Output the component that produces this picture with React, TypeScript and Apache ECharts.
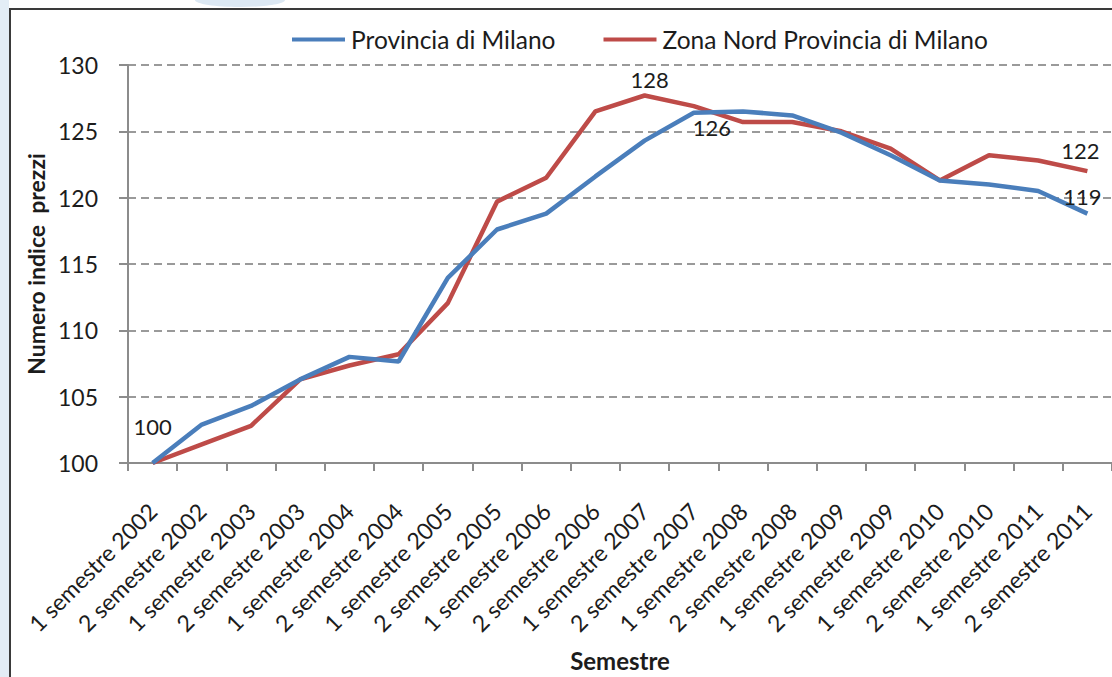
import React, { useEffect, useRef } from "react";
import * as echarts from "echarts";

const categories = [
  "1 semestre 2002", "2 semestre 2002", "1 semestre 2003", "2 semestre 2003",
  "1 semestre 2004", "2 semestre 2004", "1 semestre 2005", "2 semestre 2005",
  "1 semestre 2006", "2 semestre 2006", "1 semestre 2007", "2 semestre 2007",
  "1 semestre 2008", "2 semestre 2008", "1 semestre 2009", "2 semestre 2009",
  "1 semestre 2010", "2 semestre 2010", "1 semestre 2011", "2 semestre 2011",
];

const provinciaMilano = [
  100, 102.9, 104.3, 106.3, 108.0, 107.65, 113.95, 117.6, 118.8, 121.6,
  124.3, 126.4, 126.5, 126.2, 124.9, 123.2, 121.3, 121.0, 120.5, 118.8,
];

const zonaNord = [
  100, 101.4, 102.8, 106.3, 107.35, 108.2, 112.05, 119.7, 121.5, 126.5,
  127.7, 126.9, 125.7, 125.7, 125.0, 123.7, 121.3, 123.2, 122.8, 122.0,
];

const seriesNames = ["Provincia di Milano", "Zona Nord Provincia di Milano"];
const yTicks = { min: 100, max: 130, interval: 5 };

const FONT = "Lato, 'Noto Sans', sans-serif";
const TEXT = "#1c1c1c";

export default function App() {
  const ref = useRef<HTMLDivElement>(null);

  useEffect(() => {
    if (!ref.current) return;
    const chart = echarts.init(ref.current, null, { renderer: "svg" });

    const lbl = (extra: any) => ({
      show: true,
      position: "top",
      color: TEXT,
      fontSize: 22,
      fontFamily: FONT,
      formatter: (p: any) => String(Math.round(p.value)),
      ...extra,
    });

    const blueData = provinciaMilano.map((v, i) => {
      if (i === 0) return { value: v, label: lbl({ distance: 4, offset: [0, -21] }) };
      if (i === 11) return { value: v, label: lbl({ position: "bottom", distance: 4, offset: [18, 0] }) };
      if (i === 19) return { value: v, label: lbl({ distance: 6, offset: [-5, 0] }) };
      return v;
    });
    const redData = zonaNord.map((v, i) => {
      if (i === 10) return { value: v, label: lbl({ distance: 5, offset: [5, 0] }) };
      if (i === 19) return { value: v, label: lbl({ distance: 10, offset: [-7, 0] }) };
      return v;
    });

    chart.setOption({
      animation: false,
      backgroundColor: "#ffffff",
      textStyle: { fontFamily: FONT },
      graphic: [
        { type: "rect", shape: { x: 0, y: 0, width: 9, height: 677 }, style: { fill: "#e3edf6" }, z: -10 },
        { type: "ellipse", shape: { cx: 240, cy: 0, rx: 45, ry: 7 }, style: { fill: "#dce8f3" }, z: -10 },
        {
          type: "rect",
          shape: { x: 10, y: 9, width: 1140, height: 720 },
          style: { fill: "none", stroke: "#3a3a3a", lineWidth: 2 },
          z: -5,
        },
      ],
      legend: {
        top: 22,
        left: 287,
        icon: "rect",
        itemWidth: 53,
        itemHeight: 4,
        itemGap: 48,
        textStyle: { fontSize: 24.5, color: TEXT, fontFamily: FONT, padding: [0, 0, 0, 1] },
        data: seriesNames,
      },
      grid: { left: 128, top: 65, bottom: 210, width: 992, containLabel: false },
      xAxis: {
        type: "category",
        data: categories,
        boundaryGap: true,
        name: "Semestre",
        nameLocation: "middle",
        nameGap: 185,
        nameTextStyle: { fontSize: 24, fontWeight: "bold", color: TEXT, fontFamily: FONT },
        axisLine: { lineStyle: { color: "#8c8c8c", width: 2 } },
        axisTick: { show: true, length: 8, lineStyle: { color: "#8c8c8c", width: 2 } },
        axisLabel: {
          rotate: 45,
          interval: 0,
          margin: 44,
          fontSize: 23,
          color: TEXT,
          fontFamily: FONT,
        },
      },
      yAxis: {
        type: "value",
        min: yTicks.min,
        max: yTicks.max,
        interval: yTicks.interval,
        name: "Numero indice  prezzi",
        nameLocation: "middle",
        nameGap: 74,
        nameTextStyle: { fontSize: 23, fontWeight: "bold", color: TEXT, fontFamily: FONT },
        axisLine: { show: true, lineStyle: { color: "#8c8c8c", width: 2 } },
        axisTick: { show: true, length: 9, lineStyle: { color: "#8c8c8c", width: 2 } },
        axisLabel: { margin: 30, fontSize: 23, color: TEXT, fontFamily: FONT },
        splitLine: { show: true, lineStyle: { color: "#9a9a9a", width: 2, type: [8, 5] } },
      },
      series: [
        {
          name: seriesNames[0],
          type: "line",
          data: blueData,
          showSymbol: true,
          symbol: "circle",
          symbolSize: 0.1,
          lineStyle: { color: "#4a7ebb", width: 4.5 },
          itemStyle: { color: "#4a7ebb" },
          z: 3,
        },
        {
          name: seriesNames[1],
          type: "line",
          data: redData,
          showSymbol: true,
          symbol: "circle",
          symbolSize: 0.1,
          lineStyle: { color: "#be4b48", width: 4.5 },
          itemStyle: { color: "#be4b48" },
          z: 2,
        },
      ],
    });

    return () => chart.dispose();
  }, []);

  return (
    <div
      ref={ref}
      style={{ position: "fixed", left: 0, top: 0, width: 1112, height: 677 }}
    />
  );
}
